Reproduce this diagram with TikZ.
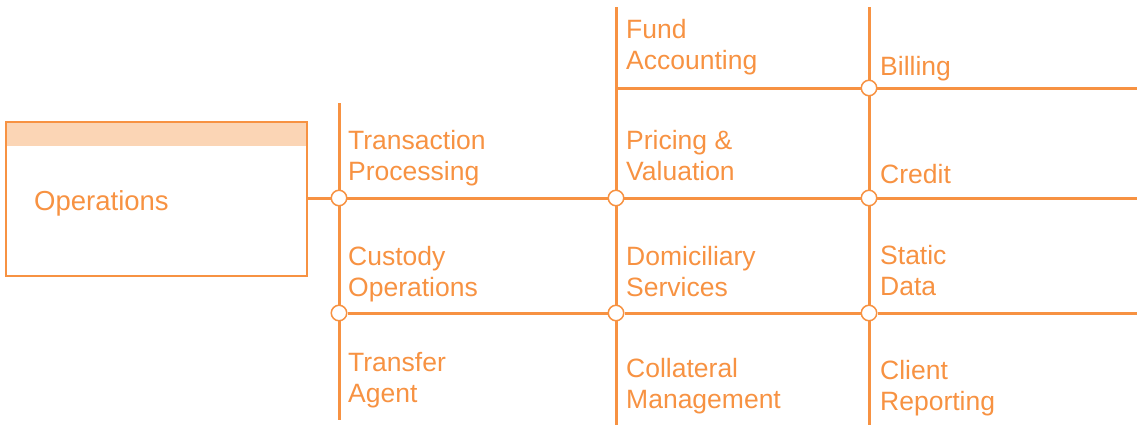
\documentclass[tikz,border=0pt]{standalone}
\usepackage{fontspec}
\setmainfont{Liberation Sans}
\definecolor{org}{RGB}{247,146,66}
\definecolor{orglight}{RGB}{251,213,181}
\tikzset{
  wire/.style={draw=org, line width=3pt},
  junc/.style={circle, draw=org, fill=white, line width=1.5pt, minimum size=15.5pt, inner sep=0pt},
  lbl/.style={text=org, font=\fontsize{26.5}{31}\selectfont, align=left, anchor=base west, inner sep=0pt},
  box/.style={draw=org, line width=1.5pt}
}
\begin{document}
\begin{tikzpicture}[x=1pt,y=-1pt]
\useasboundingbox (0,0) rectangle (1137,426);
% Operations box
\fill[orglight] (6,122) rectangle (307,146);
\draw[box] (6,122) rectangle (307,276);
\node[lbl, font=\fontsize{27.5}{31}\selectfont] (ops) at (34,210) {Operations};
\coordinate (opsR) at (307,198);
% coordinates
\coordinate (a1) at (339,103);
\coordinate (a2) at (339,420);
\coordinate (b1) at (616,7);
\coordinate (b2) at (616,425);
\coordinate (c1) at (869,7);
\coordinate (c2) at (869,425);
\coordinate (h0) at (616,88);
\coordinate (e1) at (1137,88);
\coordinate (e2) at (1137,198);
\coordinate (e3) at (1137,313);
% lines
\draw[wire] (a1) -- (a2);
\draw[wire] (b1) -- (b2);
\draw[wire] (c1) -- (c2);
\draw[wire] (opsR) -- (e2);
\draw[wire] (h0) -- (e1);
% junctions
\node[junc] (j11) at (339,198) {};
\node[junc] (j12) at (339,313) {};
\node[junc] (j21) at (616,198) {};
\node[junc] (j22) at (616,313) {};
\node[junc] (j30) at (869,88) {};
\node[junc] (j31) at (869,198) {};
\node[junc] (j32) at (869,313) {};
\draw[wire] (j12.east) -- (j22.west) (j22.east) -- (j32.west) (j32.east) -- (e3);
% labels (base = last line)
\node[lbl] (t1) at (348,180) {Transaction\\Processing};
\node[lbl] (t2) at (348,296) {Custody\\Operations};
\node[lbl] (t3) at (348,402) {Transfer\\Agent};
\node[lbl] (u0) at (626,69) {Fund\\Accounting};
\node[lbl] (u1) at (626,180) {Pricing \&\\Valuation};
\node[lbl] (u2) at (626,296) {Domiciliary\\Services};
\node[lbl] (u3) at (626,408) {Collateral\\Management};
\node[lbl] (v0) at (880,75) {Billing};
\node[lbl] (v1) at (880,183) {Credit};
\node[lbl] (v2) at (880,295) {Static\\Data};
\node[lbl] (v3) at (880,410) {Client\\Reporting};
\end{tikzpicture}
\end{document}
